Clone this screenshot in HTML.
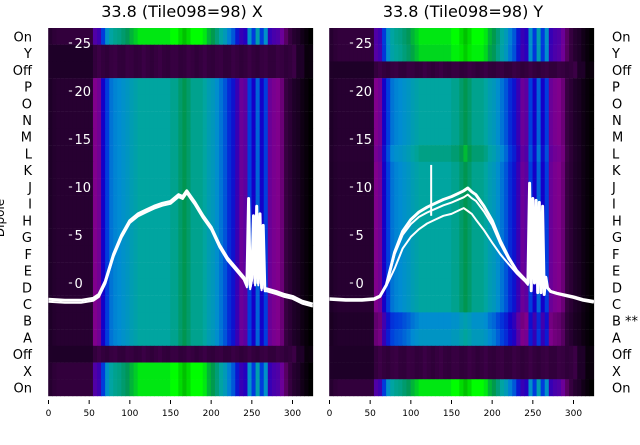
<!DOCTYPE html>
<html><head><meta charset="utf-8">
<style>
body{margin:0;background:#fff;width:640px;height:440px;overflow:hidden;font-family:"Liberation Sans","DejaVu Sans",sans-serif;}
svg text{font-family:"DejaVu Sans","Liberation Sans",sans-serif;}
</style></head>
<body>
<svg id="chart" width="640" height="440" viewBox="0 0 640 440" xmlns="http://www.w3.org/2000/svg">
<text x="182" y="17" font-size="16" text-anchor="middle">33.8 (Tile098=98) X</text>
<text x="463" y="17" font-size="16" text-anchor="middle">33.8 (Tile098=98) Y</text>
<text transform="translate(4,218) rotate(-90)" font-size="12" text-anchor="middle">Dipole</text>
<g id="panels"></g>
</svg>
<script>
const rowLabels=["On","Y","Off","P","O","N","M","L","K","J","I","H","G","F","E","D","C","B","A","Off","X","On"];
const rowLabelsRight=["On","Y","Off","P","O","N","M","L","K","J","I","H","G","F","E","D","C","B **","A","Off","X","On"];
const baseProfile=[0.12,0.14,0.15,0.15,0.15,0.15,0.15,0.15,0.15,0.15,0.15,0.3,0.32,0.45,0.55,0.62,0.64,0.65,0.67,0.69,0.72,0.74,0.76,0.76,0.76,0.76,0.76,0.76,0.76,0.76,0.78,0.78,0.82,0.85,0.82,0.78,0.78,0.78,0.76,0.72,0.7,0.66,0.62,0.58,0.52,0.48,0.4,0.33,0.35,0.55,0.45,0.6,0.45,0.55,0.33,0.31,0.3,0.27,0.2,0.16,0.12,0.1,0.06,0.03,0.0];
const rowScaleX=[1.22,0,0,1,1,1,1,1,1,1,1,1,1,1,1,1,1,1,1,0,1.22,1.22];
const rowScaleY=[1.22,1.2,0,1,1,1,1,1.04,1,1,1,1,1,1,1,1,1,0.86,0.9,0,0,1.22];
const tickX=[0,50,100,150,200,250,300];
const tickY2=[0,5,10,15,20,25];
const curveX=[0,20,40,55,62,70,80,90,100,110,120,130,140,150,160,165,170,175,180,190,200,210,220,230,240,244,246,248,250,252,254,256,258,260,262,264,266,268,272,280,290,300,312,325];
const curveXX=[-1.7,-1.8,-1.8,-1.6,-1.2,0.2,3,5,6.5,7.2,7.6,8,8.3,8.5,9.2,9,9.6,9,8.4,7,5.8,4,2.6,1.6,0.6,-0.2,8.8,-0.4,0.5,7,0,8,0,7.2,-0.5,6,-0.6,-0.6,-0.7,-0.9,-1.2,-1.4,-1.9,-2.2];
const curveYmain=[-1.7,-1.8,-1.8,-1.7,-1.4,-0.2,3.2,5.4,6.6,7.4,7.9,8.3,8.7,9,9.4,9.6,9.9,9.5,9.2,8,6.5,4.4,2.7,1.3,0.4,0,10.4,-0.8,8.8,0,8.6,-1,8.4,-1,8,-1.2,0.6,-0.5,-0.9,-1.1,-1.3,-1.5,-1.8,-2];
const curveYlow=[-1.7,-1.8,-1.8,-1.7,-1.4,-0.3,1.5,3.6,4.8,5.6,6.2,6.6,7,7.2,7.6,7.8,7.5,7.2,6.6,5.5,4.2,3,2,1,0.2,-0.2,10.4,-0.8,8.8,0,8.6,-1,8.4,-1,8,-1.2,0.6,-0.5,-0.9,-1.1,-1.3,-1.5,-1.8,-2];
const spikeYX=[125];
const spikeYV=[12.3];

const NS="http://www.w3.org/2000/svg";
const stops=[[0,[0,0,0]],[0.12,[30,0,40]],[0.2,[55,0,65]],[0.3,[128,0,140]],[0.45,[20,0,200]],[0.55,[0,60,220]],[0.65,[0,140,210]],[0.76,[0,165,160]],[0.85,[0,150,80]],[0.95,[0,255,0]],[1.1,[0,150,0]]];
function cmap(v){v=Math.max(0,Math.min(1.1,v));for(let i=1;i<stops.length;i++){if(v<=stops[i][0]){const a=stops[i-1],b=stops[i],t=(v-a[0])/(b[0]-a[0]);return `rgb(${a[1].map((c,k)=>Math.round(c+(b[1][k]-c)*t)).join(",")})`;}}return "rgb(0,150,0)";}
const plotTop=28,plotBottom=396,nRows=rowLabels.length,rowH=(plotBottom-plotTop)/nRows;
function mk(tag,attrs,parent){const e=document.createElementNS(NS,tag);for(const k in attrs)e.setAttribute(k,attrs[k]);parent.appendChild(e);return e;}
const root=document.getElementById("panels");
function panel(x0,scales,labels,labelSide,curves,name){
  const g=mk("g",{},root);
  
  
  const sx=v=>x0+v*0.8133;
  const sy=v=>283-v*9.6;
  const bw=5*0.8133;
  scales.forEach((s,r)=>{
    baseProfile.forEach((v,i)=>{
      let val;
      if(s===0){val=i<11?0.12:0.19+0.015*Math.sin(i*1.7);if(i>=63)val=0.04;if(i>=61&&i<63)val=0.12;}
      else val=v*s;
      const c=mk("rect",{x:sx(i*5)-0.3,y:plotTop+r*rowH,width:bw+0.6,height:rowH+0.2,fill:cmap(val)},g);
      
      
    });
  });
  curves.forEach((cy,ci)=>{
    const d=curveX.map((x,i)=>(i?"L":"M")+sx(x).toFixed(1)+","+sy(cy[i]).toFixed(1)).join(" ");
    const p=mk("path",{d:d,fill:"none",stroke:"#fff","stroke-width":ci===0?3:2,"stroke-linejoin":"round"},g);
    
    
  });
  tickY2.forEach(t=>{
    const y=sy(t);
    const tk=mk("line",{x1:sx(25),x2:sx(29),y1:y,y2:y,stroke:"#fff","stroke-width":1},g);
    
    
    const tx=mk("text",{x:sx(32),y:y+5,fill:"#fff","font-size":13},g);
    tx.textContent=t;
    
    
  });
  tickX.forEach(t=>{
    const x=sx(t);
    const tk=mk("line",{x1:x,x2:x,y1:400,y2:404,stroke:"#000","stroke-width":1},g);
    
    
    const tx=mk("text",{x:x,y:416,"text-anchor":"middle","font-size":9},g);
    tx.textContent=t;
    
    
  });
  labels.forEach((l,r)=>{
    const y=plotTop+(r+0.5)*rowH+5;
    const tx=mk("text",{x:labelSide==="left"?32:612,y:y,"text-anchor":labelSide==="left"?"end":"start","font-size":13},g);
    tx.textContent=l;
    
    
  });
  return {sx,sy,g};
}
const L=panel(48.5,rowScaleX,rowLabels,"left",[curveXX,curveXX.map(v=>v-0.25)],"left-panel-x");
const R=panel(329.5,rowScaleY,rowLabelsRight,"right",[curveYmain,curveYmain.map(v=>v*0.93),curveYlow],"right-panel-y");
const gap=mk("rect",{x:315,y:20,width:14,height:380,fill:"#fff"},root);


spikeYX.forEach((x,i)=>{
  const s=mk("line",{x1:R.sx(x),x2:R.sx(x),y1:R.sy(7),y2:R.sy(spikeYV[i]),stroke:"#fff","stroke-width":2},R.g);
  
  
});
</script>
</body></html>
